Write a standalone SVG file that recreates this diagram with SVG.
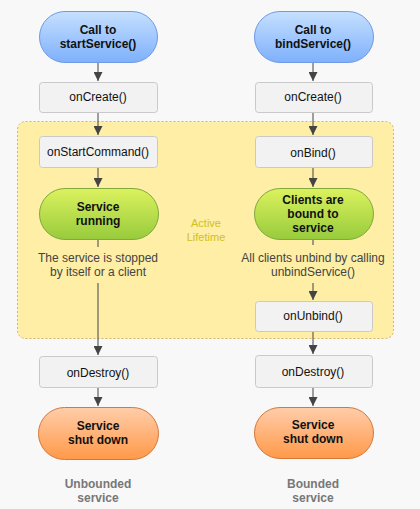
<svg xmlns="http://www.w3.org/2000/svg" width="420" height="509" viewBox="0 0 420 509">
<defs>
<linearGradient id="gBlue" x1="0" y1="0" x2="0" y2="1"><stop offset="0" stop-color="#c6e0ff"/><stop offset="1" stop-color="#7eb0fb"/></linearGradient>
<linearGradient id="gGreen" x1="0" y1="0" x2="0" y2="1"><stop offset="0" stop-color="#dcf25e"/><stop offset="1" stop-color="#97cb3c"/></linearGradient>
<linearGradient id="gOrange" x1="0" y1="0" x2="0" y2="1"><stop offset="0" stop-color="#ffcdaa"/><stop offset="1" stop-color="#ff9949"/></linearGradient>
<marker id="arr" viewBox="0 0 10 10" refX="10" refY="5" markerWidth="9" markerHeight="9" markerUnits="userSpaceOnUse" orient="auto"><path d="M0,0 L10,5 L0,10 z" fill="#444"/></marker>
<style>
.box{fill:#f2f2f2;stroke:#c9c9c9;stroke-width:1}
.blue{fill:url(#gBlue);stroke:#6f9ae6;stroke-width:1}
.green{fill:url(#gGreen);stroke:#82a93c;stroke-width:1}
.orange{fill:url(#gOrange);stroke:#d4793a;stroke-width:1}
.t{font-family:"Liberation Sans",Arial,sans-serif;font-size:12px;fill:#111;text-anchor:middle;dominant-baseline:central}
.b{font-weight:bold}
.note{font-family:"Liberation Sans",Arial,sans-serif;font-size:12px;fill:#444;text-anchor:middle;dominant-baseline:central}
.lab{font-family:"Liberation Sans",Arial,sans-serif;font-size:12px;font-weight:bold;fill:#777;text-anchor:middle;dominant-baseline:central}
.life{font-family:"Liberation Sans",Arial,sans-serif;font-size:11px;fill:#d2c01c;text-anchor:middle;dominant-baseline:central}
.c{stroke:#444;stroke-width:1;fill:none}
</style>
</defs>
<rect x="0" y="0" width="420" height="509" fill="#f8f8f8"/>
<g id="active-lifetime">
<rect x="17.5" y="121.5" width="376" height="217" rx="8" fill="#feeea6" stroke="#d5b46a" stroke-width="1" stroke-dasharray="2,2"/>
<text class="life" x="206" y="223">Active</text>
<text class="life" x="206" y="237">Lifetime</text>
</g>
<g id="connectors">
<line class="c" x1="98" y1="62" x2="98" y2="81" marker-end="url(#arr)"/>
<line class="c" x1="98" y1="112" x2="98" y2="135" marker-end="url(#arr)"/>
<line class="c" x1="98" y1="167" x2="98" y2="187" marker-end="url(#arr)"/>
<line class="c" x1="98" y1="239" x2="98" y2="247"/>
<line class="c" x1="98" y1="283" x2="98" y2="355" marker-end="url(#arr)"/>
<line class="c" x1="98" y1="387" x2="98" y2="406" marker-end="url(#arr)"/>
<line class="c" x1="313" y1="62" x2="313" y2="81" marker-end="url(#arr)"/>
<line class="c" x1="313" y1="112" x2="313" y2="135" marker-end="url(#arr)"/>
<line class="c" x1="313" y1="167" x2="313" y2="187" marker-end="url(#arr)"/>
<line class="c" x1="313" y1="239" x2="313" y2="245"/>
<line class="c" x1="313" y1="283" x2="313" y2="300" marker-end="url(#arr)"/>
<line class="c" x1="313" y1="331" x2="313" y2="354" marker-end="url(#arr)"/>
<line class="c" x1="313" y1="387" x2="313" y2="406" marker-end="url(#arr)"/>
</g>
<g id="start-call"><rect class="blue" x="39.5" y="11.5" width="118" height="51" rx="25.5"/><text class="t b" x="98" y="30">Call to</text><text class="t b" x="98" y="44">startService()</text></g>
<g id="oncreate-left"><rect class="box" x="39.5" y="82.5" width="118" height="30" rx="3"/><text class="t" x="98" y="97">onCreate()</text></g>
<g id="onstartcommand"><rect class="box" x="39.5" y="136.5" width="118" height="31" rx="3"/><text class="t" x="98" y="152">onStartCommand()</text></g>
<g id="service-running"><rect class="green" x="39.5" y="188.5" width="119" height="51" rx="25.5"/><text class="t b" x="98" y="207">Service</text><text class="t b" x="98" y="221">running</text></g>
<g id="note-left"><text class="note" x="98" y="258">The service is stopped</text><text class="note" x="98" y="272">by itself or a client</text></g>
<g id="ondestroy-left"><rect class="box" x="39.5" y="356.5" width="118" height="31" rx="3"/><text class="t" x="98" y="373">onDestroy()</text></g>
<g id="shutdown-left"><rect class="orange" x="38.5" y="407.5" width="120" height="52" rx="26"/><text class="t b" x="98" y="426">Service</text><text class="t b" x="98" y="440">shut down</text></g>
<g id="label-left"><text class="lab" x="98" y="484">Unbounded</text><text class="lab" x="98" y="498">service</text></g>
<g id="bind-call"><rect class="blue" x="254.5" y="11.5" width="119" height="51" rx="25.5"/><text class="t b" x="313" y="30">Call to</text><text class="t b" x="313" y="44">bindService()</text></g>
<g id="oncreate-right"><rect class="box" x="255.5" y="82.5" width="117" height="30" rx="3"/><text class="t" x="313" y="97">onCreate()</text></g>
<g id="onbind"><rect class="box" x="255.5" y="136.5" width="117" height="31" rx="3"/><text class="t" x="313" y="153">onBind()</text></g>
<g id="clients-bound"><rect class="green" x="254.5" y="188.5" width="119" height="51" rx="25.5"/><text class="t b" x="313" y="200">Clients are</text><text class="t b" x="313" y="214">bound to</text><text class="t b" x="313" y="228">service</text></g>
<g id="note-right"><text class="note" x="313" y="258">All clients unbind by calling</text><text class="note" x="313" y="272">unbindService()</text></g>
<g id="onunbind"><rect class="box" x="255.5" y="301.5" width="117" height="30" rx="3"/><text class="t" x="313" y="316">onUnbind()</text></g>
<g id="ondestroy-right"><rect class="box" x="255.5" y="355.5" width="117" height="32" rx="3"/><text class="t" x="313" y="372">onDestroy()</text></g>
<g id="shutdown-right"><rect class="orange" x="254.5" y="407.5" width="119" height="51" rx="25.5"/><text class="t b" x="313" y="425">Service</text><text class="t b" x="313" y="439">shut down</text></g>
<g id="label-right"><text class="lab" x="313" y="484">Bounded</text><text class="lab" x="313" y="498">service</text></g>
</svg>
